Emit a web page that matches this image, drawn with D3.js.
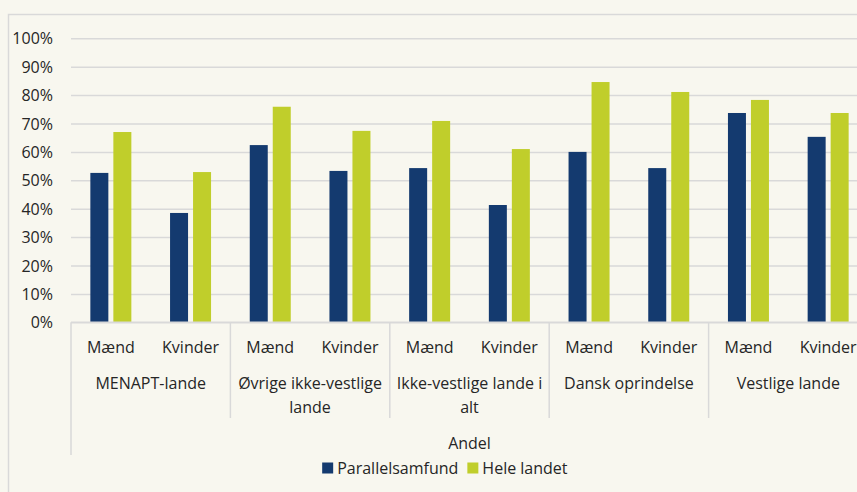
<!DOCTYPE html>
<html>
<head>
<meta charset="utf-8">
<script src="https://cdn.jsdelivr.net/npm/d3@7"></script>
<style>
  html, body { margin: 0; padding: 0; background: #f8f7ef; }
</style>
</head>
<body>
<div id="chart"></div>
<script>
// Data
const groups = ["MENAPT-lande", "Øvrige ikke-vestlige lande", "Ikke-vestlige lande i alt", "Dansk oprindelse", "Vestlige lande"];
const genders = ["Mænd", "Kvinder"];
const seriesNames = ["Parallelsamfund", "Hele landet"];
const parallelValues = [0.526, 0.385, 0.624, 0.533, 0.543, 0.413, 0.600, 0.543, 0.737, 0.653];
const landetValues = [0.670, 0.529, 0.759, 0.674, 0.709, 0.610, 0.846, 0.811, 0.783, 0.737];
const yTicks = [0, 0.1, 0.2, 0.3, 0.4, 0.5, 0.6, 0.7, 0.8, 0.9, 1];
const axisTitle = "Andel";

class Chart {
  constructor() {
    const attrs = {
      container: "#chart",
      svgWidth: 857,
      svgHeight: 492,
      plotLeft: 71,
      plotRight: 868,
      plotTop: 38.3,
      plotBottom: 322.3,
      background: "#f8f7ef",
      gridColor: "#d9d9d9",
      textColor: "#262626",
      colors: ["#143a6f", "#c0ce2b"],
      defaultFont: "'Open Sans', sans-serif",
      fontSize: 16
    };
    this.getState = () => attrs;
    this.setState = (d) => Object.assign(attrs, d);
  }

  render() {
    this.calculateProperties();
    this.drawSvg();
    this.drawGrid();
    this.drawBars();
    this.drawXAxis();
    this.drawLegend();
    return this;
  }

  calculateProperties() {
    const { plotLeft, plotRight, plotTop, plotBottom } = this.getState();

    // one row per group/gender
    const rows = [];
    groups.forEach((g, gi) => {
      genders.forEach((s, si) => {
        const i = gi * genders.length + si;
        rows.push({ key: g + "|" + s, group: g, gender: s, values: [parallelValues[i], landetValues[i]] });
      });
    });

    const x0 = d3.scaleBand().domain(rows.map(d => d.key)).range([plotLeft, plotRight]);
    const x1 = d3.scaleBand().domain(seriesNames)
      .range([x0.bandwidth() / 2 - 20.5, x0.bandwidth() / 2 + 20.5])
      .paddingInner(5 / 23);
    const gx = d3.scaleBand().domain(groups).range([plotLeft, plotRight]);
    const y = d3.scaleLinear().domain([0, 1]).range([plotBottom, plotTop]);

    this.setState({ rows, x0, x1, gx, y });
  }

  drawSvg() {
    const { container, svgWidth, svgHeight, defaultFont, background, fontSize, textColor } = this.getState();
    const svg = d3.select(container).append("svg")
      .attr("width", svgWidth)
      .attr("height", svgHeight)
      .style("display", "block")
      .attr("font-family", defaultFont)
      .attr("font-size", fontSize)
      .attr("fill", textColor);

    svg.append("rect").attr("width", svgWidth).attr("height", svgHeight).attr("fill", background);

    // outer chart frame (cut off at right/bottom)
    svg.append("path")
      .attr("d", `M8.5,${svgHeight + 2} V14.5 H${svgWidth + 2}`)
      .attr("fill", "none")
      .attr("stroke", "#d9d9d9")
      .attr("stroke-width", 1.5);

    this.setState({ svg });
  }

  drawGrid() {
    const { svg, y, plotLeft, gridColor, textColor } = this.getState();

    const axis = d3.axisLeft(y)
      .tickValues(yTicks)
      .tickFormat(d3.format(".0%"))
      .tickSize(-1000)
      .tickPadding(18);

    const g = svg.append("g")
      .attr("class", "y-axis")
      .attr("transform", `translate(${plotLeft},0)`)
      .call(axis);

    g.attr("font-family", null).attr("font-size", null);
    g.select(".domain").remove();
    g.selectAll(".tick line").attr("stroke", gridColor).attr("stroke-width", 1.5);
    g.selectAll(".tick text")
      .attr("fill", textColor)
      .attr("dy", "0.35em");
  }

  drawBars() {
    const { svg, rows, x0, x1, y, colors } = this.getState();

    const row = svg.append("g").selectAll("g.row")
      .data(rows)
      .join("g")
      .attr("class", "row")
      .attr("transform", d => `translate(${x0(d.key)},0)`);

    row.selectAll("rect")
      .data(d => d.values.map((v, i) => ({ name: seriesNames[i], value: v, idx: i })))
      .join("rect")
      .attr("x", d => x1(d.name))
      .attr("width", x1.bandwidth())
      .attr("y", d => y(d.value))
      .attr("height", d => y(0) - y(d.value))
      .attr("fill", d => colors[d.idx]);
  }

  drawXAxis() {
    const { svg, rows, x0, gx, y, gridColor, plotLeft, plotRight } = this.getState();
    const base = y(0);
    const axisG = svg.append("g").attr("class", "x-axis");

    axisG.append("line")
      .attr("x1", plotLeft).attr("x2", plotRight)
      .attr("y1", base).attr("y2", base)
      .attr("stroke", gridColor).attr("stroke-width", 1.5);

    // group separators
    axisG.selectAll("line.sep")
      .data(groups.concat(["end"]))
      .join("line")
      .attr("class", "sep")
      .attr("x1", (d, i) => i < groups.length ? gx(d) : plotRight)
      .attr("x2", (d, i) => i < groups.length ? gx(d) : plotRight)
      .attr("y1", base)
      .attr("y2", (d, i) => i === 0 ? 455 : 418)
      .attr("stroke", gridColor)
      .attr("stroke-width", 1.5);

    // gender labels
    axisG.selectAll("text.sub")
      .data(rows)
      .join("text")
      .attr("class", "sub")
      .attr("x", d => x0(d.key) + x0.bandwidth() / 2)
      .attr("y", base + 25)
      .attr("dy", "0.35em")
      .attr("text-anchor", "middle")
      .text(d => d.gender);

    // group labels, wrapped into the group width
    const maxW = gx.bandwidth() - 6;
    axisG.selectAll("text.grp")
      .data(groups)
      .join("text")
      .attr("class", "grp")
      .attr("x", d => gx(d) + gx.bandwidth() / 2)
      .attr("y", base + 61)
      .attr("text-anchor", "middle")
      .each(function (d) {
        const t = d3.select(this);
        const words = d.split(" ");
        let line = [];
        let tspan = t.append("tspan").attr("x", t.attr("x")).attr("dy", "0.35em");
        words.forEach(w => {
          line.push(w);
          tspan.text(line.join(" "));
          if (tspan.node().getComputedTextLength() > maxW && line.length > 1) {
            line.pop();
            tspan.text(line.join(" "));
            line = [w];
            tspan = t.append("tspan").attr("x", t.attr("x")).attr("dy", 24).text(w);
          }
        });
      });

    svg.append("text")
      .attr("x", (plotLeft + plotRight) / 2)
      .attr("y", 443)
      .attr("dy", "0.35em")
      .attr("text-anchor", "middle")
      .text(axisTitle);
  }

  drawLegend() {
    const { svg, colors } = this.getState();
    const legend = svg.append("g").attr("class", "legend").attr("transform", "translate(0,468)");

    const item = legend.selectAll("g.item")
      .data(seriesNames)
      .join("g")
      .attr("class", "item");

    item.append("rect")
      .attr("y", -5.5)
      .attr("width", 11)
      .attr("height", 11)
      .attr("fill", (d, i) => colors[i]);

    item.append("text")
      .attr("x", 15)
      .attr("dy", "0.35em")
      .text(d => d);

    // lay out items side by side, centred under the plot
    let offset = 0;
    const widths = [];
    item.each(function () { widths.push(this.getBBox().width); });
    const gap = 9;
    const total = d3.sum(widths) + gap * (widths.length - 1);
    const start = 445 - total / 2;
    item.attr("transform", (d, i) => {
      const tx = start + offset;
      offset += widths[i] + gap;
      return `translate(${tx},0)`;
    });
  }
}

new Chart().render();
</script>
</body>
</html>
